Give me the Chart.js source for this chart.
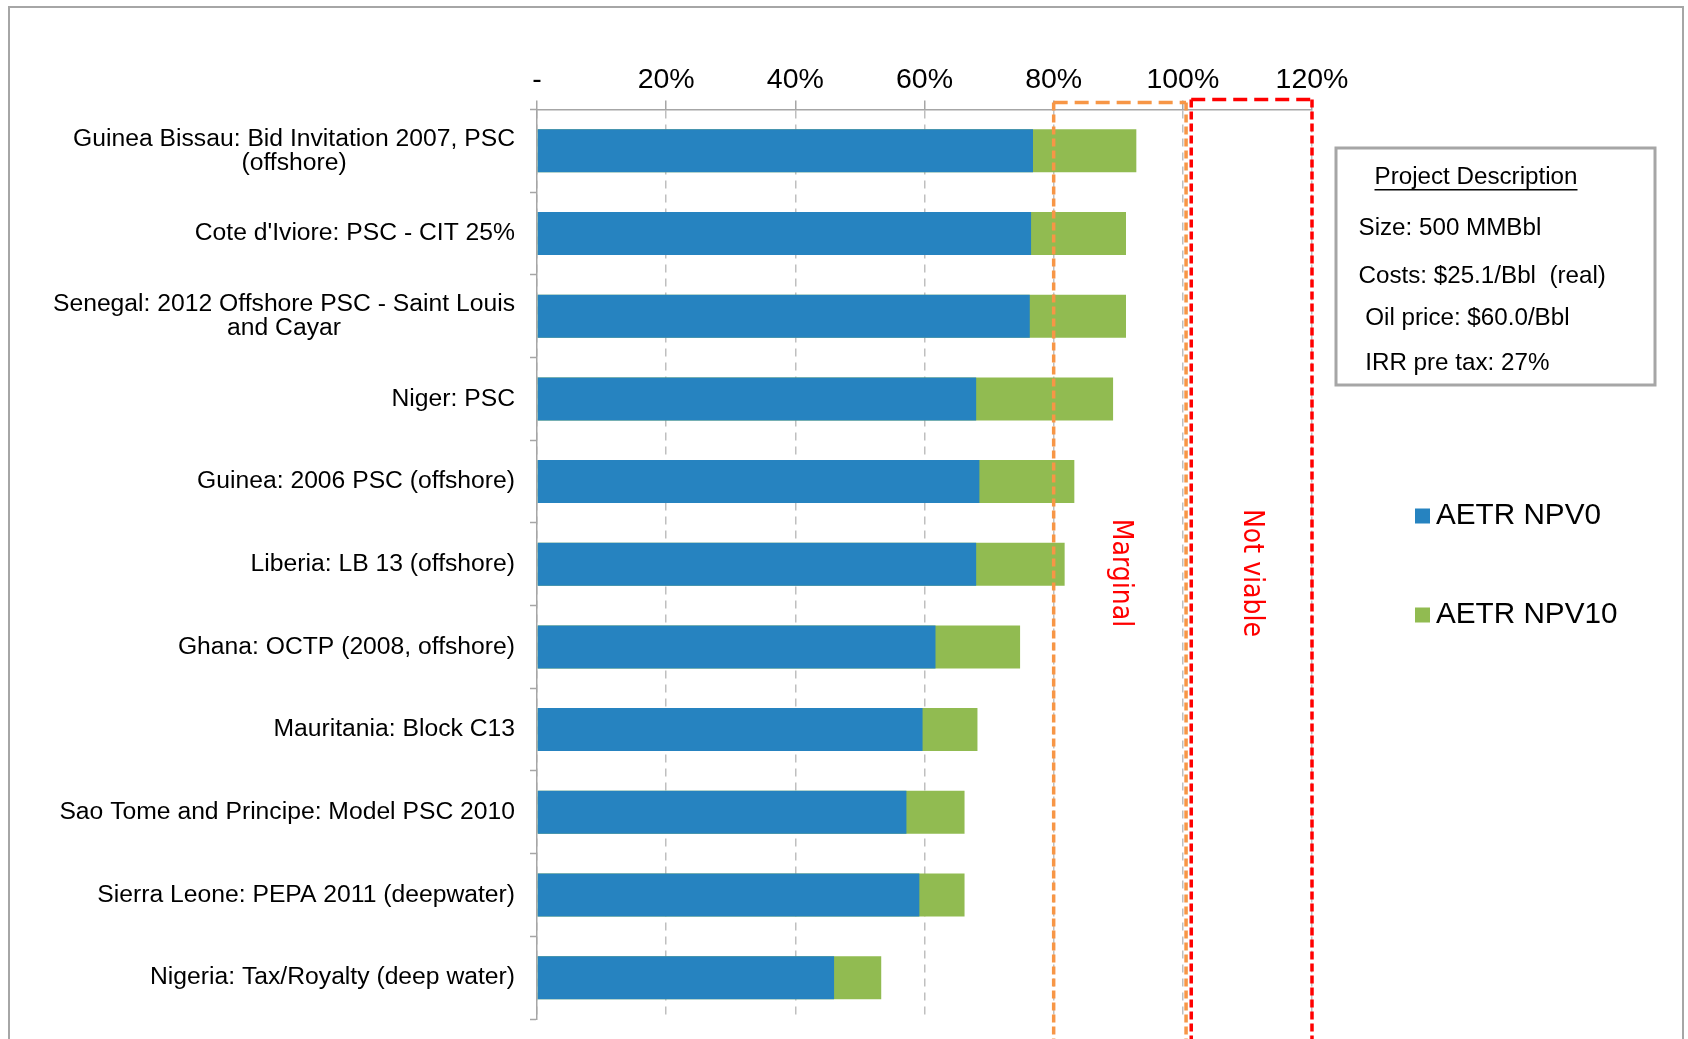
<!DOCTYPE html>
<html>
<head>
<meta charset="utf-8">
<script src="https://cdn.jsdelivr.net/npm/chart.js@4.4.0/dist/chart.umd.min.js"></script>
<style>
  html, body { margin: 0; padding: 0; background: #fff; }
  #wrap { position: relative; width: 1688px; height: 1039px; }
</style>
</head>
<body>
<div id="wrap"><canvas id="aetrChart"></canvas></div>
<script>
const categories = [
  ["Guinea Bissau: Bid Invitation 2007, PSC", "(offshore)"],
  "Cote d'Iviore: PSC - CIT 25%",
  ["Senegal: 2012 Offshore PSC - Saint Louis", "and Cayar"],
  "Niger: PSC",
  "Guinea: 2006 PSC (offshore)",
  "Liberia: LB 13 (offshore)",
  "Ghana: OCTP (2008, offshore)",
  "Mauritania: Block C13",
  "Sao Tome and Principe: Model PSC 2010",
  "Sierra Leone: PEPA 2011 (deepwater)",
  "Nigeria: Tax/Royalty (deep water)"
];
const aetrNpv0 = [76.8, 76.5, 76.3, 68.0, 68.5, 68.0, 61.7, 59.7, 57.2, 59.2, 46.0];
const aetrNpv10 = [92.8, 91.2, 91.2, 89.2, 83.2, 81.7, 74.8, 68.2, 66.2, 66.2, 53.3];
const xTicks = [0, 20, 40, 60, 80, 100, 120];

const zoneLabels = ["Marginal", "Not viable"];
const zoneFrom = [80, 101.3];
const zoneTo = [100.5, 120];

const projectTitle = "Project Description";
const projectLines = ["Size: 500 MMBbl", "Costs: $25.1/Bbl  (real)", " Oil price: $60.0/Bbl", " IRR pre tax: 27%"];

const BLUE = "#2683C0";
const GREEN = "#91BB51";
const AXIS_GRAY = "#A6A6A6";
const FONT = '"Liberation Sans", Arial, sans-serif';

// everything that is not a bar: frame, zones, category labels, legend, info box
const extras = {
  id: "extras",
  beforeDraw(chart) {
    const ctx = chart.ctx;
    ctx.save();
    ctx.strokeStyle = AXIS_GRAY;
    ctx.lineWidth = 2;
    ctx.strokeRect(9, 7, 1674, 1200);
    ctx.restore();
  },
  afterDatasetsDraw(chart) {
    const { ctx, chartArea, scales } = chart;
    const x = scales.x;
    const tops = [chartArea.top - 7, chartArea.top - 10];
    const colors = ["#F79646", "#FF0000"];
    const widths = [3.5, 3.5];
    zoneLabels.forEach((name, i) => {
      const x1 = x.getPixelForValue(zoneFrom[i]);
      const x2 = x.getPixelForValue(zoneTo[i]);
      ctx.save();
      ctx.strokeStyle = colors[i];
      ctx.lineWidth = widths[i];
      // sides
      ctx.setLineDash([8, 4]);
      ctx.beginPath();
      ctx.moveTo(x1, tops[i]);
      ctx.lineTo(x1, chart.height + 5);
      ctx.moveTo(x2, tops[i]);
      ctx.lineTo(x2, chart.height + 5);
      ctx.stroke();
      // top edge
      ctx.setLineDash([14, 7]);
      ctx.beginPath();
      ctx.moveTo(x1, tops[i]);
      ctx.lineTo(x2, tops[i]);
      ctx.stroke();
      ctx.setLineDash([]);
      ctx.translate((x1 + x2) / 2, 573);
      ctx.rotate(Math.PI / 2);
      ctx.fillStyle = "#FF0000";
      ctx.font = '28px "Liberation Sans Narrow", "DejaVu Sans Condensed", sans-serif';
      ctx.textAlign = "center";
      ctx.textBaseline = "middle";
      ctx.fillText(name, 0, 0);
      ctx.restore();
    });
  },
  afterDraw(chart) {
    const { ctx, scales } = chart;
    const y = scales.y;
    ctx.save();
    ctx.fillStyle = "#000";
    ctx.textBaseline = "middle";
    ctx.textAlign = "center";
    ctx.font = "24.7px " + FONT;
    // category labels: block right aligned, wrapped lines centred on each other
    categories.forEach((c, i) => {
      const lines = Array.isArray(c) ? c : [c];
      const widest = Math.max(...lines.map((l) => ctx.measureText(l).width));
      const cx = 515 - widest / 2;
      const cy = y.getPixelForValue(i);
      lines.forEach((l, j) => {
        ctx.fillText(l, cx, cy + (j - (lines.length - 1) / 2) * 24);
      });
    });

    // legend
    ctx.textAlign = "left";
    ctx.font = "29.7px " + FONT;
    const legY = [516, 615];
    chart.data.datasets.forEach((ds, i) => {
      ctx.fillStyle = ds.backgroundColor;
      ctx.fillRect(1415, legY[i] - 7.5, 15, 15);
      ctx.fillStyle = "#000";
      ctx.fillText(ds.label, 1436, legY[i]);
    });

    // project description box
    ctx.strokeStyle = AXIS_GRAY;
    ctx.lineWidth = 3;
    ctx.strokeRect(1336, 148, 319, 237);
    ctx.font = "24.2px " + FONT;
    ctx.textAlign = "center";
    ctx.fillText(projectTitle, 1476, 177);
    const tw = ctx.measureText(projectTitle).width;
    ctx.fillRect(1476 - tw / 2, 189, tw, 1.5);
    ctx.textAlign = "left";
    const infoY = [228, 276, 318, 363];
    projectLines.forEach((l, i) => ctx.fillText(l, 1358.5, infoY[i]));
    ctx.restore();
  }
};

new Chart(document.getElementById("aetrChart"), {
  type: "bar",
  data: {
    labels: categories,
    datasets: [
      {
        label: "AETR NPV0",
        data: aetrNpv0,
        backgroundColor: BLUE,
        grouped: false,
        order: 0,
        barPercentage: 0.52,
        categoryPercentage: 1.0
      },
      {
        label: "AETR NPV10",
        data: aetrNpv10,
        backgroundColor: GREEN,
        grouped: false,
        order: 1,
        barPercentage: 0.52,
        categoryPercentage: 1.0
      }
    ]
  },
  options: {
    indexAxis: "y",
    responsive: true,
    maintainAspectRatio: false,
    animation: false,
    layout: { padding: { left: 0, right: 376, top: 0, bottom: 20 } },
    plugins: {
      legend: { display: false },
      tooltip: { enabled: false }
    },
    scales: {
      x: {
        position: "top",
        min: 0,
        max: 120,
        afterBuildTicks: (s) => {
          s.ticks = xTicks.map((v) => ({ value: v }));
        },
        afterFit: (s) => {
          s.height = 109.5;
        },
        ticks: {
          callback: (v) => (v === 0 ? "-" : v + "%"),
          font: { family: FONT, size: 28.5, lineHeight: 1.2 },
          color: "#000",
          padding: 3,
          maxRotation: 0,
          autoSkip: false
        },
        grid: {
          color: "#BFBFBF",
          lineWidth: 1.5,
          drawTicks: true,
          tickLength: 9,
          tickColor: AXIS_GRAY,
          tickWidth: 1.5,
          tickBorderDash: []
        },
        border: { display: true, color: AXIS_GRAY, width: 1.5, dash: [8, 6] }
      },
      y: {
        afterFit: (s) => {
          s.width = 537;
        },
        ticks: { display: false },
        grid: {
          drawOnChartArea: false,
          drawTicks: true,
          tickLength: 7,
          tickColor: AXIS_GRAY,
          tickWidth: 1.5,
          offset: true
        },
        border: { color: AXIS_GRAY, width: 1.5 }
      }
    }
  },
  plugins: [extras]
});
</script>
</body>
</html>
